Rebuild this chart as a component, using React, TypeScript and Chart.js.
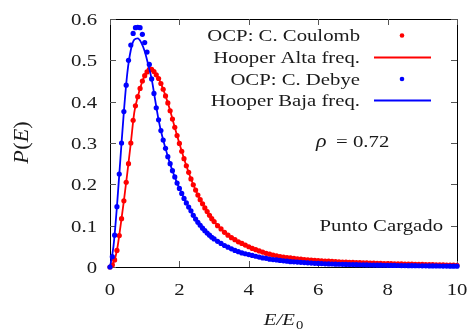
import React, { useEffect, useRef } from "react";
import { Chart, registerables } from "chart.js";
Chart.register(...registerables);

// ---- data ----
const E_DOTS = [
  0, 0.067, 0.133, 0.2, 0.267, 0.333, 0.4, 0.467, 0.533, 0.6, 0.667, 0.733, 0.8, 0.867, 0.933,
  1.0, 1.067, 1.133, 1.2, 1.267, 1.333, 1.4, 1.467, 1.533, 1.6, 1.667, 1.733, 1.8, 1.867, 1.933,
  2.0, 2.067, 2.133, 2.2, 2.267, 2.333, 2.4, 2.467, 2.533, 2.6, 2.667, 2.733, 2.8, 2.867, 2.933,
  3.0, 3.1, 3.2, 3.3, 3.4, 3.5, 3.6, 3.7, 3.8, 3.9, 4.0, 4.1, 4.2, 4.3, 4.4, 4.5, 4.6, 4.7, 4.8, 4.9,
  5.0, 5.1, 5.2, 5.3, 5.4, 5.5, 5.6, 5.7, 5.8, 5.9, 6.0, 6.1, 6.2, 6.3, 6.4, 6.5, 6.6, 6.7, 6.8, 6.9,
  7.0, 7.1, 7.2, 7.3, 7.4, 7.5, 7.6, 7.7, 7.8, 7.9, 8.0, 8.1, 8.2, 8.3, 8.4, 8.5, 8.6, 8.7, 8.8, 8.9,
  9.0, 9.1, 9.2, 9.3, 9.4, 9.5, 9.6, 9.7, 9.8, 9.9, 10.0,
];

const OCP_COULOMB = [
  0, 0.005, 0.017, 0.04, 0.076, 0.117, 0.16, 0.205, 0.25, 0.3, 0.355, 0.39, 0.412, 0.432, 0.45,
  0.463, 0.472, 0.478, 0.478, 0.473, 0.465, 0.456, 0.444, 0.43, 0.414, 0.397, 0.378, 0.358, 0.338, 0.318,
  0.299, 0.28, 0.262, 0.245, 0.229, 0.213, 0.199, 0.186, 0.174, 0.163, 0.153, 0.143, 0.134, 0.125, 0.117,
  0.11, 0.1, 0.092, 0.084, 0.077, 0.071, 0.066, 0.061, 0.057, 0.053, 0.049, 0.045, 0.042, 0.039, 0.036,
  0.033, 0.031, 0.029, 0.027, 0.025, 0.024, 0.023, 0.022, 0.021, 0.02, 0.019, 0.018, 0.017, 0.0165, 0.016,
  0.0155, 0.015, 0.0145, 0.014, 0.0135, 0.013, 0.0125, 0.012, 0.0117, 0.0114, 0.011, 0.0107, 0.0104, 0.0101,
  0.0098, 0.0095, 0.0092, 0.009, 0.0087, 0.0085, 0.0082, 0.008, 0.0078, 0.0076, 0.0074, 0.0072, 0.007,
  0.0068, 0.0066, 0.0064, 0.0062, 0.006, 0.0058, 0.0056, 0.0054, 0.0052, 0.005, 0.0048, 0.0046, 0.0044, 0.0042,
];

const OCP_DEBYE = [
  0, 0.025, 0.077, 0.146, 0.225, 0.3, 0.376, 0.44, 0.5, 0.537, 0.565, 0.579, 0.58, 0.579, 0.563,
  0.543, 0.52, 0.49, 0.455, 0.42, 0.385, 0.356, 0.33, 0.307, 0.287, 0.267, 0.25, 0.233, 0.218, 0.203,
  0.19, 0.178, 0.166, 0.155, 0.145, 0.136, 0.125, 0.116, 0.108, 0.101, 0.094, 0.088, 0.082, 0.077, 0.072,
  0.068, 0.062, 0.057, 0.052, 0.048, 0.044, 0.04, 0.037, 0.034, 0.032, 0.03, 0.028, 0.026, 0.024, 0.022,
  0.021, 0.019, 0.018, 0.017, 0.016, 0.015, 0.014, 0.013, 0.0125, 0.012, 0.0112, 0.0106, 0.01, 0.0095, 0.009,
  0.0086, 0.0082, 0.0078, 0.0075, 0.0072, 0.0069, 0.0066, 0.0064, 0.0062, 0.006, 0.0058, 0.0056, 0.0054, 0.0052,
  0.005, 0.0048, 0.0046, 0.0045, 0.0043, 0.0042, 0.004, 0.0039, 0.0038, 0.0036, 0.0035, 0.0034, 0.0033,
  0.0032, 0.0031, 0.003, 0.0029, 0.0028, 0.0027, 0.0026, 0.0025, 0.0024, 0.0023, 0.0022, 0.0021, 0.002, 0.0019,
];

const E_LINE = [0, 0.1, 0.2, 0.3, 0.4, 0.5, 0.6, 0.7, 0.8, 0.9, 1.0, 1.1, 1.2, 1.3, 1.4, 1.5, 1.6, 1.7, 1.8, 1.9, 2.0, 2.2, 2.4, 2.6, 2.8, 3.0, 3.5, 4.0, 4.5, 5.0, 6.0, 7.0, 8.0, 9.0, 10.0];
const HOOPER_ALTA = [0, 0.01, 0.04, 0.097, 0.16, 0.228, 0.3, 0.374, 0.412, 0.441, 0.463, 0.475, 0.478, 0.469, 0.456, 0.437, 0.414, 0.388, 0.358, 0.328, 0.299, 0.245, 0.199, 0.163, 0.134, 0.11, 0.071, 0.049, 0.033, 0.024, 0.0155, 0.011, 0.0082, 0.0062, 0.0042];
const HOOPER_BAJA = [0, 0.05, 0.146, 0.262, 0.376, 0.47, 0.525, 0.55, 0.553, 0.543, 0.522, 0.49, 0.455, 0.405, 0.356, 0.318, 0.287, 0.258, 0.233, 0.21, 0.19, 0.155, 0.125, 0.101, 0.082, 0.068, 0.044, 0.03, 0.021, 0.015, 0.0086, 0.0058, 0.004, 0.0029, 0.0019];

const X_TICKS = [0, 2, 4, 6, 8, 10];
const X_LABELS = ["0", "2", "4", "6", "8", "10"];
const Y_TICKS = [0, 0.1, 0.2, 0.3, 0.4, 0.5, 0.6];
const Y_LABELS = ["0", "0.1", "0.2", "0.3", "0.4", "0.5", "0.6"];

const LEGEND_LABELS = ["OCP: C. Coulomb", "Hooper Alta freq.", "OCP: C. Debye", "Hooper Baja freq."];
const RED = "#ff0000";
const BLUE = "#0000ff";
const TEXT = "#1a1a1a";
const SERIF = "'Liberation Serif', 'Times New Roman', serif";
const SX = 1.22;
const DOT_R = 2.6;

function drawText(ctx: CanvasRenderingContext2D, s: string, x: number, y: number, align: string, font: string, sx = SX) {
  ctx.save();
  ctx.font = font;
  ctx.fillStyle = TEXT;
  ctx.textBaseline = "alphabetic";
  ctx.textAlign = "left";
  const w = ctx.measureText(s).width * sx;
  const x0 = align === "right" ? x - w : align === "center" ? x - w / 2 : x;
  ctx.translate(x0, y);
  ctx.scale(sx, 1);
  ctx.fillText(s, 0, 0);
  ctx.restore();
  return w;
}

function measure(ctx: CanvasRenderingContext2D, s: string, font: string, sx = SX) {
  ctx.save();
  ctx.font = font;
  const w = ctx.measureText(s).width * sx;
  ctx.restore();
  return w;
}

const frame = {
  id: "frame",
  beforeDatasetsDraw(chart: any) {
    const { ctx, chartArea: a, scales } = chart;
    ctx.save();
    ctx.strokeStyle = "#000";
    ctx.lineWidth = 1;
    ctx.strokeRect(Math.round(a.left) + 0.5, Math.round(a.top) + 0.5, Math.round(a.right - a.left), Math.round(a.bottom - a.top));
    ctx.strokeStyle = "#555";
    const L = 6;
    ctx.beginPath();
    X_TICKS.forEach((v) => {
      const px = Math.round(scales.x.getPixelForValue(v)) + 0.5;
      ctx.moveTo(px, a.bottom);
      ctx.lineTo(px, a.bottom - L);
      ctx.moveTo(px, a.top);
      ctx.lineTo(px, a.top + L);
    });
    Y_TICKS.forEach((v) => {
      const py = Math.round(scales.y.getPixelForValue(v)) + 0.5;
      ctx.moveTo(a.left, py);
      ctx.lineTo(a.left + L, py);
      ctx.moveTo(a.right, py);
      ctx.lineTo(a.right - L, py);
    });
    ctx.stroke();
    ctx.restore();
  },
  afterDraw(chart: any) {
    const { ctx, chartArea: a, scales } = chart;
    const f = `17px ${SERIF}`;
    const fi = `italic 17px ${SERIF}`;
    // tick labels
    Y_TICKS.forEach((v, i) => {
      drawText(ctx, Y_LABELS[i], a.left - 13, scales.y.getPixelForValue(v) + 6, "right", f);
    });
    X_TICKS.forEach((v, i) => {
      drawText(ctx, X_LABELS[i], scales.x.getPixelForValue(v), a.bottom + 28, "center", f);
    });
    // x title E/E0
    const cx = (a.left + a.right) / 2;
    const w1 = measure(ctx, "E/E", fi);
    const w2 = measure(ctx, "0", `12px ${SERIF}`);
    const x0 = cx - (w1 + w2 + 1) / 2;
    drawText(ctx, "E/E", x0, 325, "left", fi);
    drawText(ctx, "0", x0 + w1 + 1, 329, "left", `12px ${SERIF}`);
    // y title P(E), rotated
    ctx.save();
    ctx.translate(28, (a.top + a.bottom) / 2);
    ctx.rotate(-Math.PI / 2);
    ctx.scale(1.3, 1.18);
    ctx.fillStyle = TEXT;
    ctx.textBaseline = "alphabetic";
    ctx.textAlign = "left";
    const parts: [string, string][] = [["P", fi], ["(", f], ["E", fi], [")", f]];
    let tot = 0;
    parts.forEach(([s, ff]) => { ctx.font = ff; tot += ctx.measureText(s).width; });
    let xx = -tot / 2;
    parts.forEach(([s, ff]) => { ctx.font = ff; ctx.fillText(s, xx, 0); xx += ctx.measureText(s).width + (s === "P" ? 0.5 : 0); });
    ctx.restore();
    // legend
    const baselines = [41, 63, 84.5, 106];
    const centers = [35.5, 57.5, 79, 100.5];
    LEGEND_LABELS.forEach((s, i) => drawText(ctx, s, 360, baselines[i], "right", f));
    ctx.save();
    [RED, RED, BLUE, BLUE].forEach((c, i) => {
      ctx.fillStyle = c;
      ctx.strokeStyle = c;
      if (i % 2 === 0) {
        ctx.beginPath();
        ctx.arc(402, centers[i], 2.3, 0, Math.PI * 2);
        ctx.fill();
      } else {
        ctx.lineWidth = 1.8;
        ctx.beginPath();
        ctx.moveTo(374, centers[i]);
        ctx.lineTo(431, centers[i]);
        ctx.stroke();
      }
    });
    ctx.restore();
    // annotations
    drawText(ctx, "\u03c1", 316, 147, "left", `italic 18px ${SERIF}`);
    drawText(ctx, "=", 336, 147, "left", f);
    drawText(ctx, "0.72", 353, 147, "left", f);
    drawText(ctx, "Punto Cargado", 443, 231, "right", f);
  },
};

export default function App() {
  const ref = useRef<HTMLCanvasElement | null>(null);
  useEffect(() => {
    if (!ref.current) return;
    const pts = (xs: number[], ys: number[]) => xs.map((x, i) => ({ x, y: ys[i] }));
    const chart = new Chart(ref.current, {
      type: "scatter",
      data: {
        datasets: [
          { label: LEGEND_LABELS[0], data: pts(E_DOTS, OCP_COULOMB), showLine: false, pointRadius: DOT_R, pointBorderWidth: 0, pointBackgroundColor: RED, backgroundColor: RED, borderColor: RED, order: 4, clip: false },
          { label: LEGEND_LABELS[1], data: pts(E_LINE, HOOPER_ALTA), showLine: true, pointRadius: 0, borderWidth: 1.8, borderColor: RED, cubicInterpolationMode: "monotone", order: 3, clip: false },
          { label: LEGEND_LABELS[2], data: pts(E_DOTS, OCP_DEBYE), showLine: false, pointRadius: DOT_R, pointBorderWidth: 0, pointBackgroundColor: BLUE, backgroundColor: BLUE, borderColor: BLUE, order: 2, clip: false },
          { label: LEGEND_LABELS[3], data: pts(E_LINE, HOOPER_BAJA), showLine: true, pointRadius: 0, borderWidth: 1.8, borderColor: BLUE, cubicInterpolationMode: "monotone", order: 1, clip: false },
        ] as any,
      },
      options: {
        animation: false,
        responsive: false,
        devicePixelRatio: 1,
        layout: { padding: { left: 110, right: 12, top: 19, bottom: 64 } },
        scales: {
          x: { type: "linear", min: 0, max: 10, display: false },
          y: { type: "linear", min: 0, max: 0.6, display: false },
        },
        plugins: { legend: { display: false }, tooltip: { enabled: false } },
        events: [],
      },
      plugins: [frame],
    });
    return () => chart.destroy();
  }, []);
  return (
    <div style={{ position: "fixed", left: 0, top: 0, width: 469, height: 331, background: "#fff" }}>
      <canvas ref={ref} width={469} height={331} />
    </div>
  );
}
